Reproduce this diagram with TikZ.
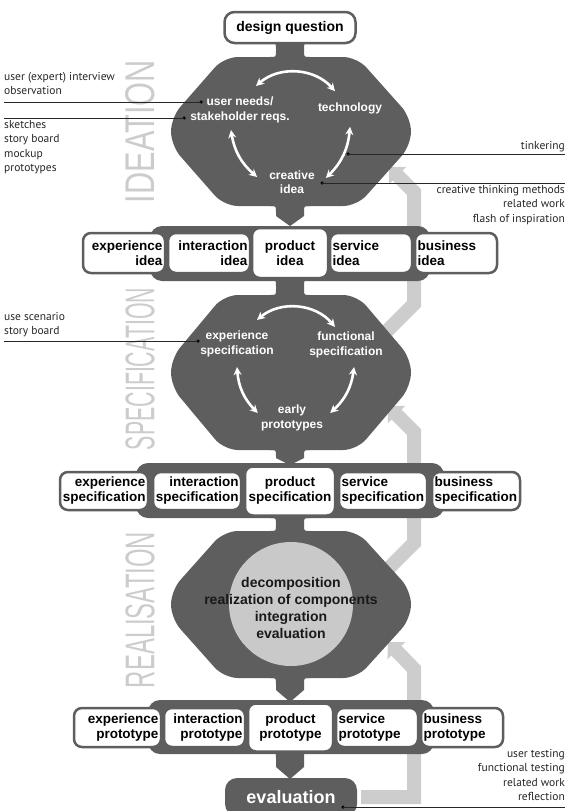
\documentclass[tikz,border=0pt]{standalone}
\usepackage{fontspec}
\setmainfont{Liberation Sans}
\newfontfamily\notefont{PT Sans}
\usetikzlibrary{arrows.meta}

\definecolor{hexgray}{HTML}{5E5E5E}
\definecolor{fbgray}{HTML}{CDCDCD}
\definecolor{circgray}{HTML}{C9C9C9}
\definecolor{stagegray}{HTML}{CCCCCC}

% hexagon: centre y, half height
\newcommand{\hexa}[2]{\fill[hexgray, rounded corners=14pt] (224,#1-#2) -- (357,#1-#2) -- (411,#1-14) -- (411,#1+14) -- (357,#1+#2) -- (224,#1+#2) -- (171,#1+14) -- (171,#1-14) -- cycle;}
% neck between two parts: top y, bottom y
\newcommand{\neck}[2]{\fill[hexgray] (270,#1-3) -- (270,#1) .. controls (276,#1) .. (276,#1+6) -- (276,#2-6) .. controls (276,#2) .. (270,#2) -- (270,#2+3) -- (310,#2+3) -- (310,#2) .. controls (304,#2) .. (304,#2-6) -- (304,#1+6) .. controls (304,#1) .. (310,#1) -- (310,#1-3) -- cycle;}
% funnel under a part: top y, bend y, tip y
\newcommand{\funnel}[3]{\fill[hexgray] (270,#1-3) -- (270,#1) .. controls (276,#1) .. (276,#1+6) -- (276,#2) -- (290,#3) -- (304,#2) -- (304,#1+6) .. controls (304,#1) .. (310,#1) -- (310,#1-3) -- cycle;}

\begin{document}
\begin{tikzpicture}[x=1pt, y=-1pt,
  box/.style={draw=hexgray, fill=white, line width=2.5pt, rounded corners=8pt, inner xsep=2.5pt, inner ysep=0pt, font=\bfseries\fontsize{13.5}{15}\selectfont},
  band/.style={fill=hexgray, rounded corners=12pt},
  hextext/.style={text=white, font=\bfseries\fontsize{12}{14.5}\selectfont, align=center, inner sep=0pt},
  note/.style={text=black!85, font=\notefont\fontsize{11.5}{14.5}\selectfont, inner sep=0pt},
  dot/.style={circle, fill=black, inner sep=0pt, minimum size=3.5pt},
  noteline/.style={line width=0.8pt, black!85},
  cyc/.style={white, line width=2.6pt, {Stealth[length=8pt,width=8pt]}-{Stealth[length=8pt,width=8pt]}},
  fb/.style={fbgray, line width=14pt, -{Triangle[angle=90:17pt]}},
  stage/.style={text=stagegray, rotate=90, inner sep=0pt}]
\useasboundingbox (0,0) rectangle (581,811);

% stage names
\node[stage] (st1) at (140,131.5) {\resizebox{143pt}{29pt}{IDEATION}};
\node[stage] (st2) at (140,369) {\resizebox{162pt}{29pt}{SPECIFICATION}};
\node[stage] (st3) at (140,610) {\resizebox{156pt}{29pt}{REALISATION}};

% feedback arrows
\node[fill=hexgray, rounded corners=12pt, minimum width=132pt, minimum height=38pt, text=white, font=\bfseries\fontsize{18}{20}\selectfont] (ev) at (291,797) {evaluation};
\coordinate (rin) at (388,642);
\coordinate (rout) at (376,581);
\coordinate (sin) at (388,406);
\coordinate (sout) at (376,342);
\coordinate (iin) at (389,167);
\draw[fb] ([xshift=4pt]ev.east) -| (414,669) -- (rin);
\draw[fb] (rout) -- (414,543) -- (414,432) -- (sin);
\draw[fb] (sout) -- (414,304) -- (414,192) -- (iin);

% ideation
\neck{43}{57}
\hexa{131.5}{74.5}
\funnel{206}{216}{226}
\node[box, font=\bfseries\fontsize{14}{16}\selectfont, minimum width=131pt, minimum height=31pt, rounded corners=10pt] (dq) at (290,27.5) {design question};
\node[hextext] (un) at (240,110) {user needs/\\stakeholder reqs.};
\node[hextext] (tech) at (350,108) {technology};
\node[hextext] (ci) at (292,182) {creative\\idea};
\draw[cyc] ([xshift=16pt,yshift=11pt]un.north) to[bend left=45] ([xshift=-15pt,yshift=11pt]tech.north);
\draw[cyc] ([xshift=-9pt,yshift=-7pt]un.south) to[bend right=20] ([xshift=-12pt,yshift=5pt]ci.west);
\draw[cyc] ([yshift=-13pt]tech.south) to[bend left=20] ([xshift=11pt,yshift=4pt]ci.east);

% ideas
\fill[band] (150,226) rectangle (430,281);
\foreach \nm/\xa/\xb/\h/\al/\txt in {iexp/83/165/40/right/{experience\\idea}, iint/168/250/40/right/{interaction\\idea}, iprod/252/328/50/center/{product\\idea}, iserv/330/412/40/left/{service\\idea}, ibus/415/497/40/left/{business\\idea}}{
  \pgfmathsetmacro{\tw}{\xb-\xa-5}
  \node[box, align=\al, text width=\tw pt, minimum height=\h pt] (\nm) at ({(\xa+\xb)/2},253) {\txt};
}

% specification
\neck{280}{295}
\hexa{372.5}{77.5}
\funnel{450}{458}{465}
\node[hextext] (es) at (237,344) {experience\\specification};
\node[hextext] (fs) at (346,345) {functional\\specification};
\node[hextext] (ep) at (292,418) {early\\prototypes};
\draw[cyc] ([xshift=20pt,yshift=11pt]es.north) to[bend left=45] ([xshift=-11pt,yshift=5pt]fs.north);
\draw[cyc] ([yshift=-10pt]es.south) to[bend right=20] ([xshift=-3pt,yshift=5pt]ep.west);
\draw[cyc] ([xshift=8pt,yshift=-9pt]fs.south) to[bend left=20] ([xshift=7pt,yshift=5pt]ep.east);

\fill[band] (136,463) rectangle (444,518);
\foreach \nm/\xa/\xb/\h/\al/\txt in {sexp/60/148/38/right/{experience\\specification}, sint/153/241/38/right/{interaction\\specification}, sprod/245/335/49/center/{product\\specification}, sserv/339/427/38/left/{service\\specification}, sbus/432/520/38/left/{business\\specification}}{
  \pgfmathsetmacro{\tw}{\xb-\xa-5}
  \node[box, align=\al, text width=\tw pt, minimum height=\h pt] (\nm) at ({(\xa+\xb)/2},491) {\txt};
}

% realisation
\neck{518}{531}
\hexa{604.5}{73.5}
\funnel{678}{690}{702}
\fill[circgray] (291,604) circle (62pt);
\node[align=center, inner sep=0pt, text=black!90, font=\bfseries\fontsize{14}{17}\selectfont] (rz) at (291,608) {decomposition\\realization of components\\integration\\evaluation};

\fill[band] (148,700) rectangle (434,754);
\funnel{752}{767}{779}
\foreach \nm/\xa/\xb/\h/\al/\txt in {pexp/74/161/39/right/{experience\\prototype}, pint/164/245/39/right/{interaction\\prototype}, pprod/248/333/48/center/{product\\prototype}, pserv/336/418/39/left/{service\\prototype}, pbus/421/503/39/left/{business\\prototype}}{
  \pgfmathsetmacro{\tw}{\xb-\xa-5}
  \node[box, align=\al, text width=\tw pt, minimum height=\h pt] (\nm) at ({(\xa+\xb)/2},727.5) {\txt};
}

% notes
\node[note, anchor=north west, align=left] (n1) at (4,72) {user (expert) interview\\observation};
\node[note, anchor=north west, align=left] (n2) at (4,120) {sketches\\story board\\mockup\\prototypes};
\node[note, anchor=north west, align=left] (n3) at (4,312) {use scenario\\story board};
\node[note, anchor=north east, align=right] (n4) at (565,141) {tinkering};
\node[note, anchor=north east, align=right] (n5) at (565,185) {creative thinking methods\\related work\\flash of inspiration};
\node[note, anchor=north east, align=right] (n6) at (565,749) {user testing\\functional testing\\related work\\reflection};

\node[dot] (d1) at (201,102) {};
\node[dot] (d2) at (184,118) {};
\node[dot] (d3) at (198,341) {};
\node[dot] (d4) at (348,154) {};
\node[dot] (d5) at (322,183) {};
\node[dot] (d6) at (343,807) {};
\coordinate (l1) at (4,102);
\coordinate (l2) at (4,118);
\coordinate (l3) at (4,341);
\coordinate (r4) at (565,154);
\coordinate (r5) at (565,183);
\coordinate (r6) at (565,807);
\draw[noteline] (d1.center) -- (l1);
\draw[noteline] (d2.center) -- (l2);
\draw[noteline] (d3.center) -- (l3);
\draw[noteline] (d4.center) -- (r4);
\draw[noteline] (d5.center) -- (r5);
\draw[noteline] (d6.center) -- (r6);
\end{tikzpicture}
\end{document}
